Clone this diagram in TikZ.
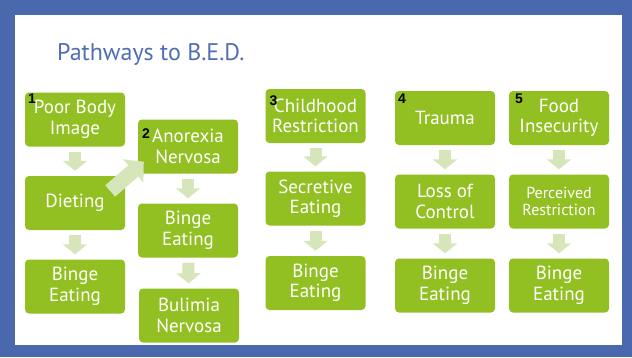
\documentclass[tikz,border=0pt]{standalone}
\usepackage{fontspec}
\setmainfont{PT Sans}
\newfontfamily\numfont{Liberation Sans}
\usetikzlibrary{arrows.meta,positioning,calc}
\definecolor{slideblue}{RGB}{74,104,174}
\definecolor{titleblue}{RGB}{80,110,180}
\definecolor{boxgreen}{RGB}{146,192,34}
\definecolor{arrgreen}{RGB}{214,230,186}
\tikzset{
  box/.style={fill=boxgreen,rounded corners=4pt,align=center,text=white,minimum width=100pt,minimum height=54pt,inner sep=2pt,font=\fontsize{19}{20.5}\selectfont},
  arr/.style={-{Triangle[length=10pt,width=24pt]},line width=12pt,arrgreen,shorten <=5pt,shorten >=5pt},
  diag/.style={-{Triangle[length=14pt,width=30pt]},line width=15pt,arrgreen},
  num/.style={anchor=north west,inner sep=0pt,font=\numfont\bfseries\fontsize{14}{14}\selectfont},
}

\begin{document}
\begin{tikzpicture}[x=1pt,y=-1pt]
% slide frame
\fill[slideblue] (0,0) rectangle (632,357);
\fill[white] (15,15) rectangle (622,345);
\node[anchor=base west,text=titleblue,font=\fontsize{24}{28}\selectfont,inner sep=0pt] (title) at (57,60) {Pathways to B.E.D.};

% pathways 1 and 2
\node[box] (pbi) at (75,119.5) {Poor Body\\Image};
\node[box] (diet) at (75,203) {Dieting};
\node[box] (be1) at (75,286.5) {Binge\\Eating};
\node[box] (an) at (188,146.5) {Anorexia\\Nervosa};
\node[box] (be2) at (188,230.5) {Binge\\Eating};
\node[box] (bn) at (189,315.5) {Bulimia\\Nervosa};

% pathway 3
\node[box] (cr) at (315.5,116) {Childhood\\Restriction};
\node[box] (se) at (315.5,198.5) {Secretive\\Eating};
\node[box] (be3) at (315.5,283) {Binge\\Eating};

% pathway 4
\node[box] (tr) at (445,118) {Trauma};
\node[box] (lc) at (445,201.5) {Loss of\\Control};
\node[box] (be4) at (445,285.5) {Binge\\Eating};

% pathway 5
\node[box] (fi) at (559,118) {Food\\Insecurity};
\node[box,font=\fontsize{16}{17.5}\selectfont] (pr) at (559,201.5) {Perceived\\Restriction};
\node[box] (be5) at (559,285.5) {Binge\\Eating};

% down arrows
\draw[arr] (pbi) -- (diet);
\draw[arr] (diet) -- (be1);
\draw[arr] (an) -- (be2);
\draw[arr] (be2) -- (bn);
\draw[arr] (cr) -- (se);
\draw[arr] (se) -- (be3);
\draw[arr] (tr) -- (lc);
\draw[arr] (lc) -- (be4);
\draw[arr] (fi) -- (pr);
\draw[arr] (pr) -- (be5);
\draw[diag] ($(diet.east)+(-15,-12)$) -- ($(an.south west)+(6,-12)$);

% pathway numbers
\node[num] at ($(pbi.north west)+(3,1)$) {1};
\node[num] at ($(an.north west)+(4,9)$) {2};
\node[num] at ($(cr.north west)+(4,7)$) {3};
\node[num] at ($(tr.north west)+(3,3)$) {4};
\node[num] at ($(fi.north west)+(6,3)$) {5};
\end{tikzpicture}
\end{document}
